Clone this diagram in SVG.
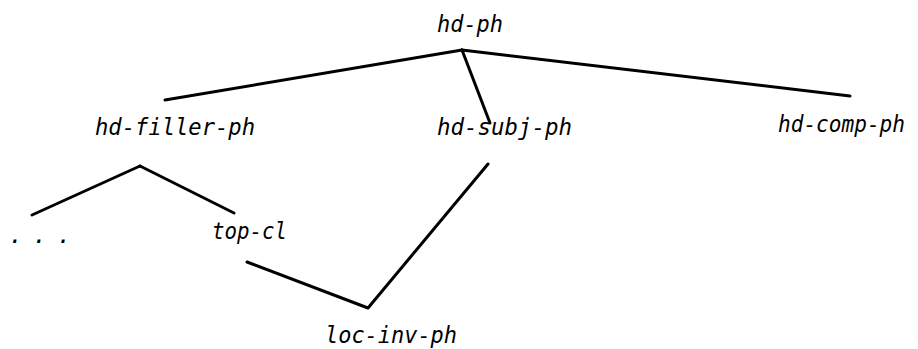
<svg xmlns="http://www.w3.org/2000/svg" width="918" height="349" viewBox="0 0 918 349">
<style>
text{font-family:"DejaVu Sans Mono","Liberation Mono",monospace;font-style:italic;font-size:23px;fill:#000}
.e{stroke:#000;stroke-width:3;fill:none;stroke-linecap:round;stroke-linejoin:round}
</style>
<rect width="918" height="349" fill="#fff"/>
<g id="connectors">
<line class="e" x1="462" y1="50" x2="165" y2="100"/>
<line class="e" x1="462" y1="50" x2="850" y2="96"/>
<line class="e" x1="462" y1="50" x2="490" y2="123"/>
<line class="e" x1="140" y1="166" x2="32" y2="215"/>
<line class="e" x1="140" y1="166" x2="234" y2="213"/>
<polyline class="e" points="247,262 368,308 488,164"/>
</g>
<g id="hd-ph"><text x="437" y="32" textLength="66" lengthAdjust="spacingAndGlyphs">hd-ph</text></g>
<g id="hd-filler-ph"><text x="95" y="135" textLength="160" lengthAdjust="spacingAndGlyphs">hd-filler-ph</text></g>
<g id="hd-subj-ph"><text x="437" y="135" textLength="135" lengthAdjust="spacingAndGlyphs">hd-subj-ph</text></g>
<g id="hd-comp-ph"><text x="778" y="132" textLength="127" lengthAdjust="spacingAndGlyphs">hd-comp-ph</text></g>
<g id="dots"><text x="9" y="243" textLength="62" lengthAdjust="spacing">. . .</text></g>
<g id="top-cl"><text x="212" y="239" textLength="75" lengthAdjust="spacingAndGlyphs">top-cl</text></g>
<g id="loc-inv-ph"><text x="325" y="343" textLength="132" lengthAdjust="spacingAndGlyphs">loc-inv-ph</text></g>
</svg>
